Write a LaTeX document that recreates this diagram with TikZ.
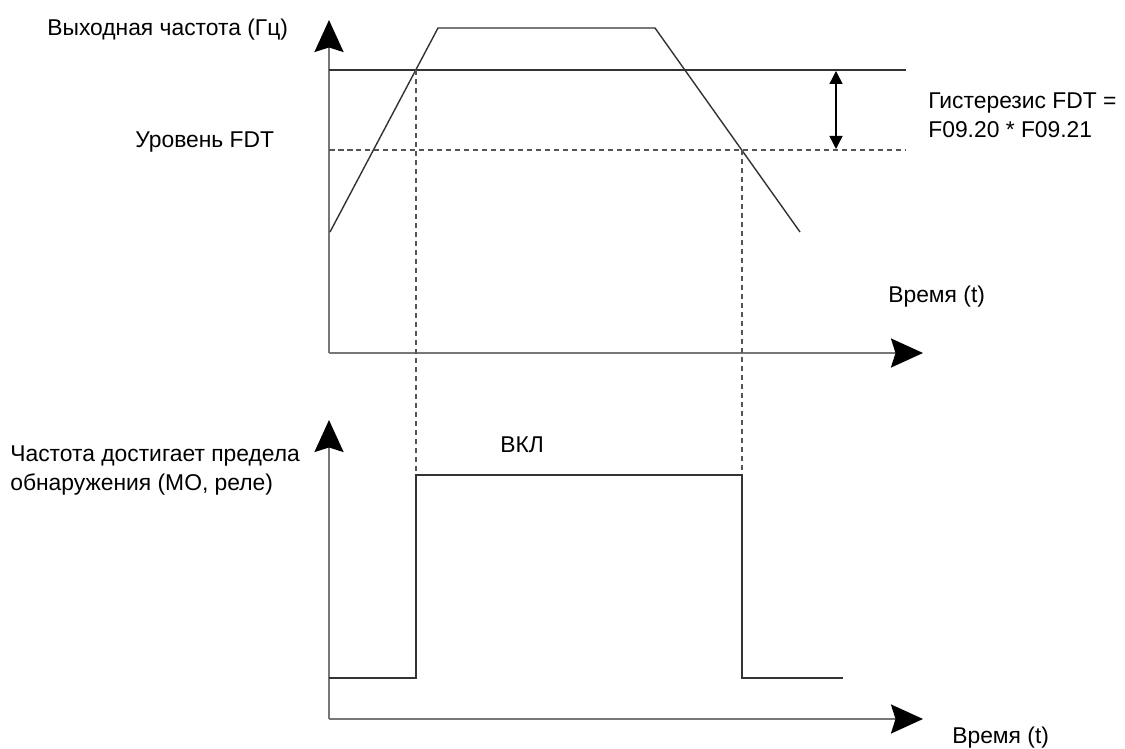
\documentclass[tikz,border=0pt]{standalone}
\usepackage{fontspec}
\setmainfont{Liberation Sans}
\usetikzlibrary{arrows.meta,positioning}
\definecolor{axisgray}{HTML}{777777}
\definecolor{curvegray}{HTML}{333333}
\definecolor{dashgray}{HTML}{555555}
\tikzset{
  axisline/.style={line width=1.3pt,color=axisgray,-{Stealth[length=6.4mm,width=5.8mm,inset=0.9mm,color=black]}},
  curve/.style={line width=0.8pt,color=curvegray,line join=miter},
  level/.style={line width=0.8pt,color=curvegray},
  dashline/.style={line width=0.8pt,color=dashgray,dash pattern=on 1.1mm off 0.7mm},
  hyst/.style={line width=0.8pt,color=black,{Triangle[length=2.6mm,width=2.6mm]}-{Triangle[length=2.6mm,width=2.6mm]}},
  lbl/.style={font=\fontsize{13}{16.5}\selectfont,inner sep=0pt,anchor=west,align=left},
}
\begin{document}
\begin{tikzpicture}[x=0.02cm,y=-0.02cm]
  \useasboundingbox (0,0) rectangle (1125,749);
  % upper plot: output frequency
  \coordinate (o1) at (329,353);
  \coordinate (y1) at (329,20);
  \coordinate (t1) at (923,353);
  \draw[axisline] (o1) -- (y1);
  \draw[axisline] (o1) -- (t1);
  \draw[level] (329,70) -- (906,70);
  \draw[dashline] (329,150) -- (906,150);
  \draw[curve] (330,232) -- (438,28) -- (655,28) -- (800,232);
  \coordinate (on1) at (416,70);
  \coordinate (off1) at (742,150);
  \coordinate (on2) at (416,475);
  \coordinate (off2) at (742,475);
  \draw[dashline] (on1) -- (on2);
  \draw[dashline] (off1) -- (off2);
  \coordinate (h1) at (836,71);
  \coordinate (h2) at (836,149);
  \draw[hyst] (h1) -- (h2);
  % lower plot: detection output
  \coordinate (o2) at (329,719);
  \coordinate (y2) at (329,420);
  \coordinate (t2) at (923,719);
  \draw[axisline] (o2) -- (y2);
  \draw[axisline] (o2) -- (t2);
  \draw[curve] (329,678) -- (416,678) -- (on2) -- (off2) -- (742,678) -- (843,678);
  % labels
  \node[lbl] (ylab1) at (47,30) {Выходная частота (Гц)};
  \node[lbl] (fdtlab) at (135,142) {Уровень FDT};
  \node[lbl] (hystlab) at (928,115) {Гистерезис FDT =\\F09.20 * F09.21};
  \node[lbl] (tlab1) at (888,297) {Время (t)};
  \node[lbl] (onlab) at (500,445) {ВКЛ};
  \node[lbl] (ylab2) at (10,471) {Частота достигает предела\\обнаружения (МО, реле)};
  \node[lbl] (tlab2) at (952,738) {Время (t)};
\end{tikzpicture}
\end{document}
